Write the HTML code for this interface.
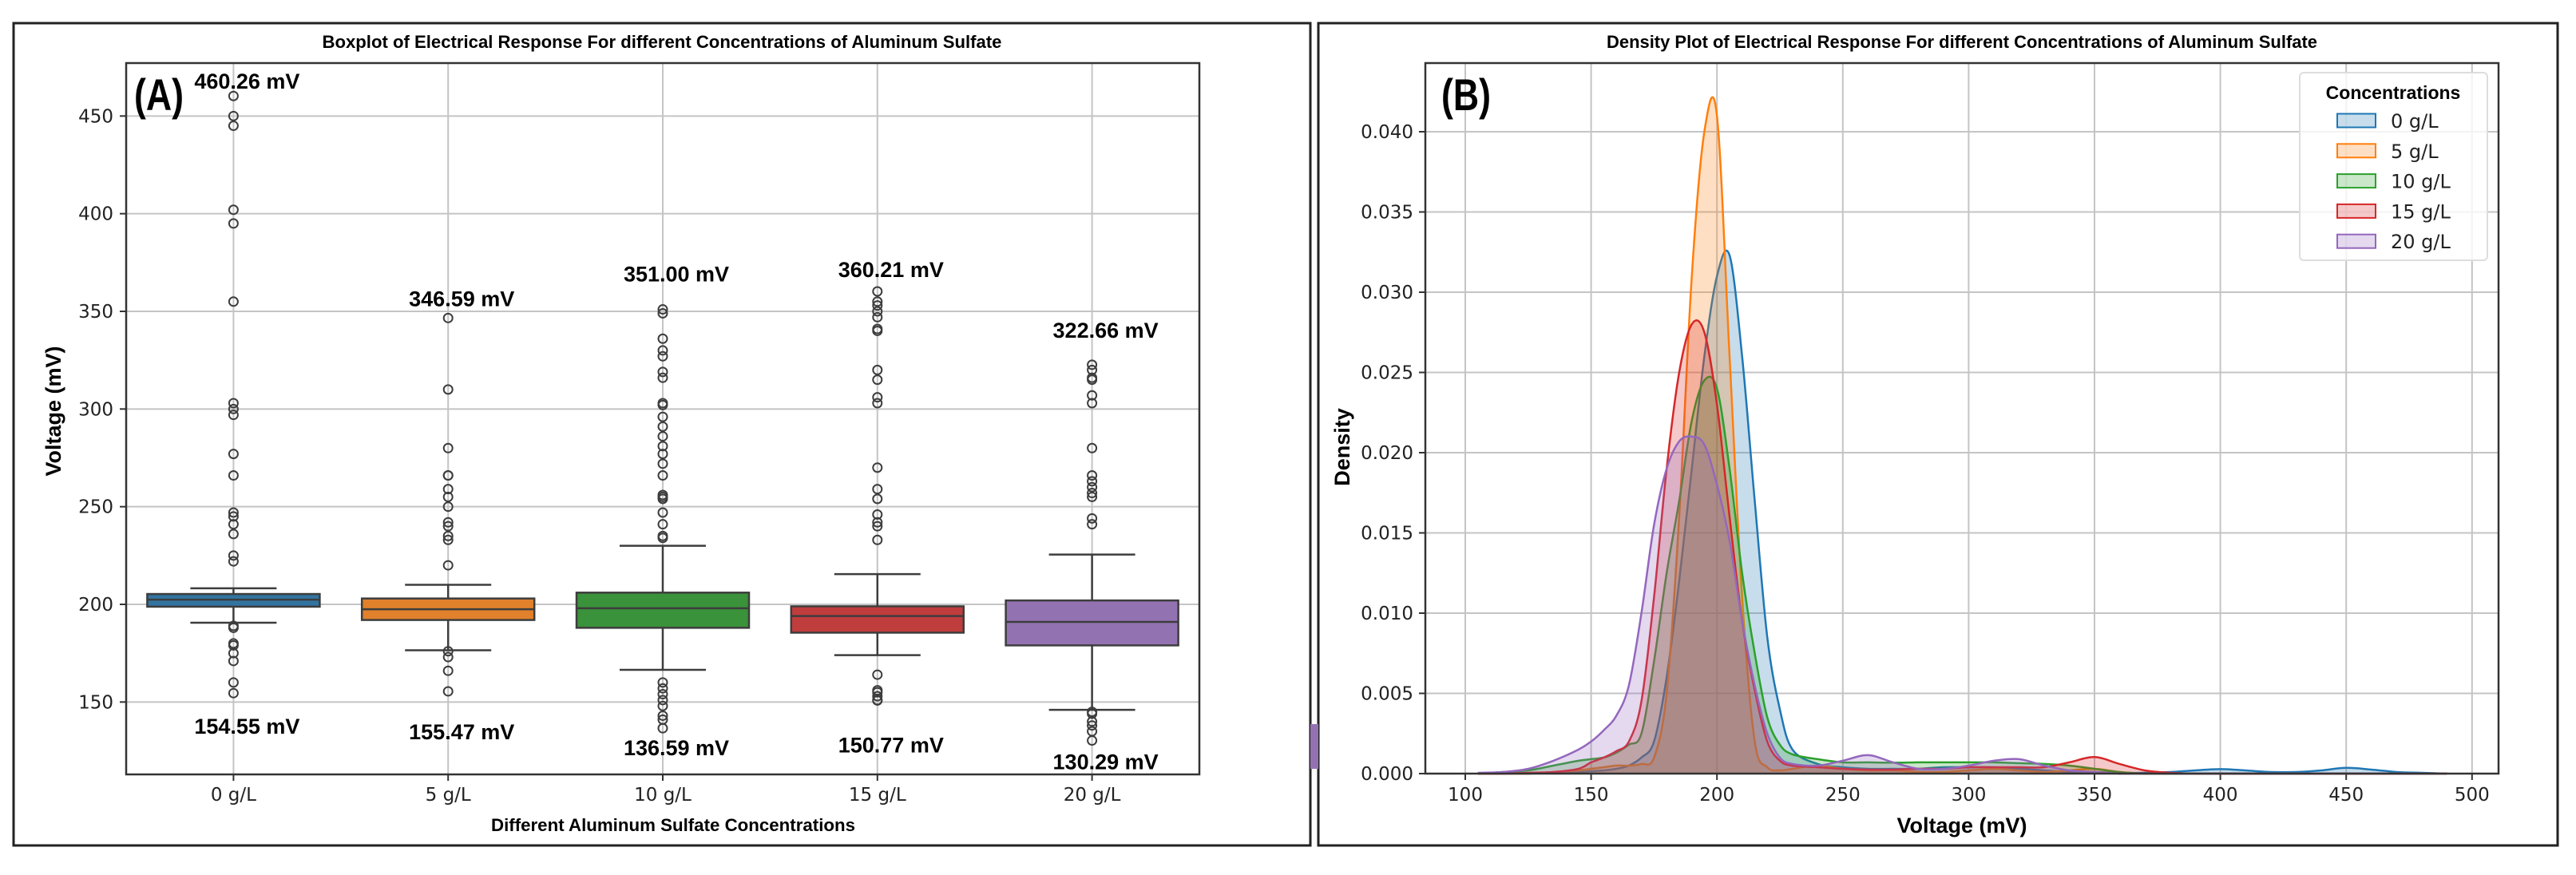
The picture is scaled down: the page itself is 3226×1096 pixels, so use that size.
<!DOCTYPE html>
<html><head><meta charset="utf-8">
<style>
html,body{margin:0;padding:0;background:#fff;}
svg{display:block;}
text{font-family:"DejaVu Sans","Liberation Sans",sans-serif;}
.b{font-family:"Liberation Sans",sans-serif;font-weight:bold;}
</style></head>
<body>
<svg id="root" width="3226" height="1096" viewBox="0 0 3226 1096" xmlns="http://www.w3.org/2000/svg">
<rect x="0" y="0" width="3226" height="1096" fill="#fff"/>
<rect x="17" y="29" width="1624" height="1030" fill="none" stroke="#222" stroke-width="3"/>
<rect x="1651" y="29" width="1552" height="1030" fill="none" stroke="#222" stroke-width="3"/>
<rect x="1641" y="907" width="10" height="56" fill="#9372b2"/>
<g id="gA"></g>
<g id="gB"></g>
</svg>
<script>
// ---------- Boxplot data ----------
const categories = ["0 g/L","5 g/L","10 g/L","15 g/L","20 g/L"];
const q1 = [198.8,192,188,185.5,179];
const medians = [202.4,197.5,198,194,191];
const q3 = [205.3,203,206,199,202];
const whiskerLo = [190.6,176.5,166.5,174,146];
const whiskerHi = [208.2,210,230,215.5,225.5];
const outliers0 = [460.26,450,445,402,395,355,303,300,297,277,266,247,245,241,236,225,222,189,188,180,179,175,171,160,154.55];
const outliers5 = [346.59,310,280,266,266,259,255,250,242,240,235,233,220,176,173,166,155.47];
const outliers10 = [351,349,336,330,327,319,316,303,302,296,291,286,281,277,272,266,256,255,254,247,241,235,234,160,157,154,151,148,143,141,136.59];
const outliers15 = [360.21,355,353,350,347,341,340,320,315,306,303,270,259,254,246,242,240,233,164,156,155,153,151,150.77];
const outliers20 = [322.66,320,316,315,307,303,280,266,263,260,257,255,244,241,145,144,140,138,135,130.29];
const maxLabels = ["460.26 mV","346.59 mV","351.00 mV","360.21 mV","322.66 mV"];
const minLabels = ["154.55 mV","155.47 mV","136.59 mV","150.77 mV","130.29 mV"];
const maxValues = [460.26,346.59,351.00,360.21,322.66];
const minValues = [154.55,155.47,136.59,150.77,130.29];
const yTicksA = [150,200,250,300,350,400,450];

// ---------- Density data ----------
const seriesNames = ["0 g/L","5 g/L","10 g/L","15 g/L","20 g/L"];
const densX = [105,115,125,135,145,150,155,160,165,170,175,180,185,190,195,200,205,210,215,220,225,230,240,250,260,270,280,290,300,310,320,330,340,350,360,370,380,390,400,410,420,430,440,450,460,470,480,490];
const dens0 = [0,0,0,0.00005,0.0001, 0.00015,0.0002,0.0003,0.0005,0.001,0.002,0.006,0.012,0.019,0.026,0.031,0.0323,0.026,0.017,0.0085,0.004, 0.0015,0.0006,0.0004,0.0003,0.0003,0.0003,0.0004,0.0004,0.0004,0.0003,0.0002,0.0001,0.0001,0.00005,0.00005,0.0001,0.0002,0.00028,0.0002,0.0001,0.0001,0.0002,0.00036,0.00025,0.0001,0.00005,0];
const dens5 = [0,0,0,0.0001,0.0002, 0.0003,0.0004,0.0005,0.0005,0.0006,0.001,0.005,0.016,0.031,0.040,0.041,0.026,0.011,0.002,0.0004,0.0002, 0.0003,0.0005,0.0003,0.0002,0.0002,0.0001,0.0001,0.0002,0.0003,0.0002,0.0001,0.0002,0.0003,0.0001,0,0,0,0,0,0,0,0,0,0,0,0,0];
const dens10 = [0,0.0001,0.0002,0.0005,0.0008, 0.0009,0.001,0.0013,0.0018,0.0025,0.007,0.0125,0.017,0.022,0.0245,0.024,0.019,0.0125,0.0075,0.0035,0.0018, 0.0012,0.0009,0.0007,0.0007,0.00068,0.0007,0.0007,0.0007,0.0007,0.00065,0.0006,0.0005,0.0003,0.0001,0,0,0,0,0,0,0,0,0,0,0,0,0];
const dens15 = [0,0,0.00005,0.0001,0.0003, 0.0007,0.001,0.0014,0.002,0.0045,0.011,0.019,0.025,0.028,0.0275,0.023,0.016,0.0095,0.0052,0.002,0.0008, 0.0005,0.0004,0.0003,0.00025,0.00025,0.0003,0.0003,0.0004,0.0004,0.0004,0.0004,0.0007,0.00103,0.0006,0.0002,0.00005,0,0,0,0,0,0,0,0,0,0,0];
const dens20 = [0.00005,0.0001,0.0003,0.0008,0.0015, 0.002,0.0027,0.0036,0.0055,0.010,0.0155,0.019,0.0207,0.021,0.0205,0.018,0.0145,0.0095,0.0055,0.0025,0.001, 0.0006,0.0005,0.0008,0.00115,0.0007,0.0003,0.0003,0.0005,0.0008,0.0009,0.0005,0.0002,0.0001,0,0,0,0,0,0,0,0,0,0,0,0,0,0];
const xTicksB = [100,150,200,250,300,350,400,450,500];
const yTicksB = [0,0.005,0.010,0.015,0.020,0.025,0.030,0.035,0.040];

const NS = "http://www.w3.org/2000/svg";
function mk(parent, tag, attrs, txt){
  const e = document.createElementNS(NS, tag);
  for (const k in attrs) e.setAttribute(k, attrs[k]);
  if (txt !== undefined) e.textContent = txt;
  parent.appendChild(e);
  return e;
}

// ================= Panel A =================
const gA = document.getElementById("gA");
const AX0 = 158, AX1 = 1502, AY0 = 79, AY1 = 970;
const yA = v => 757 - (v - 200) * 2.4467;
const band = (AX1 - AX0) / categories.length;
const xA = i => AX0 + band * (i + 0.5);
const boxColors = ["#3274a1","#e1812c","#3a923a","#c03d3e","#9372b2"];
const outlierSets = [outliers0, outliers5, outliers10, outliers15, outliers20];
const maxOff = [9,15,35,18,34];
const minOff = [51,60,34,65,36];

yTicksA.forEach(t => {
  const y = yA(t);
  const gl = mk(gA, "line", {x1:AX0, x2:AX1, y1:y, y2:y, stroke:"#c4c4c4", "stroke-width":2});
  
  
  mk(gA, "line", {x1:AX0-8, x2:AX0, y1:y, y2:y, stroke:"#333", "stroke-width":2});
  const tl = mk(gA, "text", {x:142, y:y+8, "text-anchor":"end", "font-size":23, fill:"#222"}, String(t));
  
  
});
categories.forEach((c, i) => {
  const x = xA(i);
  const gl = mk(gA, "line", {x1:x, x2:x, y1:AY0, y2:AY1, stroke:"#c4c4c4", "stroke-width":2});
  
  
  mk(gA, "line", {x1:x, x2:x, y1:AY1, y2:AY1+8, stroke:"#333", "stroke-width":2});
  const tl = mk(gA, "text", {x:x, y:1003, "text-anchor":"middle", "font-size":23, fill:"#222"}, c);
  
  
});
categories.forEach((c, i) => {
  const x = xA(i), bw = 216, cw = 108;
  const g = mk(gA, "g", {});
  
  
  mk(g, "line", {x1:x, x2:x, y1:yA(whiskerHi[i]), y2:yA(q3[i]), stroke:"#3d3d3d", "stroke-width":2.5});
  mk(g, "line", {x1:x, x2:x, y1:yA(q1[i]), y2:yA(whiskerLo[i]), stroke:"#3d3d3d", "stroke-width":2.5});
  mk(g, "line", {x1:x-cw/2, x2:x+cw/2, y1:yA(whiskerHi[i]), y2:yA(whiskerHi[i]), stroke:"#3d3d3d", "stroke-width":2.5});
  mk(g, "line", {x1:x-cw/2, x2:x+cw/2, y1:yA(whiskerLo[i]), y2:yA(whiskerLo[i]), stroke:"#3d3d3d", "stroke-width":2.5});
  mk(g, "rect", {x:x-bw/2, y:yA(q3[i]), width:bw, height:yA(q1[i])-yA(q3[i]), fill:boxColors[i], stroke:"#3d3d3d", "stroke-width":2.5});
  mk(g, "line", {x1:x-bw/2, x2:x+bw/2, y1:yA(medians[i]), y2:yA(medians[i]), stroke:"#3d3d3d", "stroke-width":2.5});
  outlierSets[i].forEach(v => {
    const o = mk(g, "circle", {cx:x, cy:yA(v), r:5.5, fill:"none", stroke:"#3d3d3d", "stroke-width":2});
    
    
  });
  const ml = mk(gA, "text", {x:x+17, y:yA(maxValues[i]) - maxOff[i], "text-anchor":"middle", "font-size":27, class:"b", fill:"#000"}, maxLabels[i]);
  
  
  const nl = mk(gA, "text", {x:x+17, y:yA(minValues[i]) + minOff[i], "text-anchor":"middle", "font-size":27, class:"b", fill:"#000"}, minLabels[i]);
  
  
});
mk(gA, "rect", {x:AX0, y:AY0, width:AX1-AX0, height:AY1-AY0, fill:"none", stroke:"#333", "stroke-width":2.5});
let t;
t = mk(gA, "text", {x:829, y:60, "text-anchor":"middle", "font-size":22, class:"b", textLength:851, lengthAdjust:"spacingAndGlyphs"}, "Boxplot of Electrical Response For different Concentrations of Aluminum Sulfate");
 
t = mk(gA, "text", {x:168, y:138, "font-size":56, class:"b", textLength:62, lengthAdjust:"spacingAndGlyphs"}, "(A)");
 
t = mk(gA, "text", {x:843, y:1041, "text-anchor":"middle", "font-size":22, class:"b", textLength:456, lengthAdjust:"spacingAndGlyphs"}, "Different Aluminum Sulfate Concentrations");
 
t = mk(gA, "text", {x:0, y:0, "text-anchor":"middle", "font-size":27, class:"b", transform:"translate(76,515) rotate(-90)"}, "Voltage (mV)");
 

// ================= Panel B =================
const gB = document.getElementById("gB");
const BX0 = 1785, BX1 = 3129, BY0 = 79, BY1 = 969;
const xB = v => 1835 + (v - 100) * 3.152;
const yB = d => 969 - d * 20100;
const lineColors = ["#1f77b4","#ff7f0e","#2ca02c","#d62728","#9467bd"];
const densSets = [dens0, dens5, dens10, dens15, dens20];

yTicksB.forEach(v => {
  const y = yB(v);
  const gl = mk(gB, "line", {x1:BX0, x2:BX1, y1:y, y2:y, stroke:"#c4c4c4", "stroke-width":2});
  
  
  mk(gB, "line", {x1:BX0-8, x2:BX0, y1:y, y2:y, stroke:"#333", "stroke-width":2});
  const tl = mk(gB, "text", {x:1770, y:y+8, "text-anchor":"end", "font-size":23, fill:"#222"}, v.toFixed(3));
  
  
});
xTicksB.forEach(v => {
  const x = xB(v);
  const gl = mk(gB, "line", {x1:x, x2:x, y1:BY0, y2:BY1, stroke:"#c4c4c4", "stroke-width":2});
  
  
  mk(gB, "line", {x1:x, x2:x, y1:BY1, y2:BY1+8, stroke:"#333", "stroke-width":2});
  const tl = mk(gB, "text", {x:x, y:1003, "text-anchor":"middle", "font-size":23, fill:"#222"}, String(v));
  
  
});
function smoothPath(pts){
  let d = "M" + pts[0][0].toFixed(1) + "," + pts[0][1].toFixed(1);
  for (let i = 0; i < pts.length - 1; i++){
    const p0 = pts[Math.max(0,i-1)], p1 = pts[i], p2 = pts[i+1], p3 = pts[Math.min(pts.length-1,i+2)];
    const c1x = p1[0] + (p2[0]-p0[0])/6, c1y = Math.min(969, p1[1] + (p2[1]-p0[1])/6);
    const c2x = p2[0] - (p3[0]-p1[0])/6, c2y = Math.min(969, p2[1] - (p3[1]-p1[1])/6);
    d += " C" + c1x.toFixed(1) + "," + c1y.toFixed(1) + " " + c2x.toFixed(1) + "," + c2y.toFixed(1) + " " + p2[0].toFixed(1) + "," + p2[1].toFixed(1);
  }
  return d;
}
densSets.forEach((arr, s) => {
  const pts = densX.map((x, i) => [xB(x), yB(arr[i])]);
  const line = smoothPath(pts);
  const area = line + " L" + xB(densX[densX.length-1]).toFixed(1) + "," + yB(0) + " L" + xB(densX[0]).toFixed(1) + "," + yB(0) + " Z";
  const a = mk(gB, "path", {d:area, fill:lineColors[s], "fill-opacity":0.25, stroke:"none"});
  
  
  const l = mk(gB, "path", {d:line, fill:"none", stroke:lineColors[s], "stroke-width":2.5});
  
  
});
mk(gB, "rect", {x:BX0, y:BY0, width:BX1-BX0, height:BY1-BY0, fill:"none", stroke:"#333", "stroke-width":2.5});

// legend
const lg = mk(gB, "g", {});


mk(lg, "rect", {x:2880, y:91, width:235, height:235, rx:5, fill:"#fff", "fill-opacity":0.8, stroke:"#ddd", "stroke-width":2});
t = mk(lg, "text", {x:2997, y:124, "text-anchor":"middle", "font-size":23, class:"b"}, "Concentrations");
 
seriesNames.forEach((n, s) => {
  const cy = 151 + s * 37.8;
  const e = mk(lg, "g", {});
  
  
  mk(e, "rect", {x:2927, y:cy-8.5, width:48, height:17, fill:lineColors[s], "fill-opacity":0.25, stroke:lineColors[s], "stroke-width":2});
  mk(e, "text", {x:2994, y:cy+9, "font-size":24, fill:"#222"}, n);
});

t = mk(gB, "text", {x:2457, y:60, "text-anchor":"middle", "font-size":22, class:"b", textLength:890, lengthAdjust:"spacingAndGlyphs"}, "Density Plot of Electrical Response For different Concentrations of Aluminum Sulfate");
 
t = mk(gB, "text", {x:1805, y:138, "font-size":56, class:"b", textLength:62, lengthAdjust:"spacingAndGlyphs"}, "(B)");
 
t = mk(gB, "text", {x:2457, y:1043, "text-anchor":"middle", "font-size":27, class:"b"}, "Voltage (mV)");
 
t = mk(gB, "text", {x:0, y:0, "text-anchor":"middle", "font-size":27, class:"b", transform:"translate(1690,560) rotate(-90)"}, "Density");
 
</script>
</body></html>
